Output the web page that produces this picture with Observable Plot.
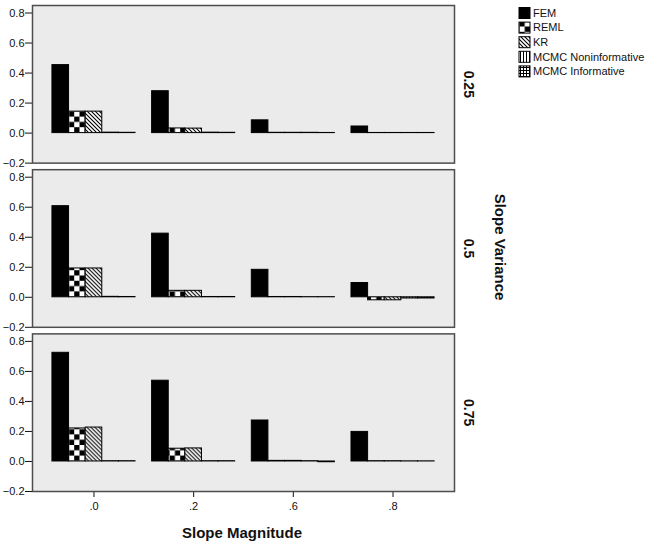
<!DOCTYPE html>
<html><head><meta charset="utf-8">
<script src="https://cdn.jsdelivr.net/npm/d3@7"></script>
<script src="https://cdn.jsdelivr.net/npm/@observablehq/plot@0.6"></script>
<style>
body{margin:0;background:#fff;}
#chart{position:relative;width:653px;height:544px;}
</style>
</head><body><div id="chart"></div>
<script>
// ---- data ----
const magnitudes = [".0", ".2", ".6", ".8"];
const variances = ["0.25", "0.5", "0.75"];
const methods = ["FEM", "REML", "KR", "MCMC Noninformative", "MCMC Informative"];
const yTicks = [-0.2, 0, 0.2, 0.4, 0.6, 0.8];
// rows: slope variance (0.25, 0.5, 0.75); columns: slope magnitude (.0, .2, .6, .8)
const femValues   = [[0.453, 0.279, 0.085, 0.044], [0.607, 0.424, 0.183, 0.095], [0.724, 0.538, 0.273, 0.197]];
const remlValues  = [[0.143, 0.031, 0.002, 0.001], [0.192, 0.043, 0.002, -0.020], [0.220, 0.085, 0.004, 0.002]];
const krValues    = [[0.143, 0.030, 0.002, 0.001], [0.192, 0.043, 0.002, -0.020], [0.226, 0.087, 0.004, 0.002]];
const mcmcNValues = [[0.003, 0.003, 0.002, 0.001], [0.003, 0.002, 0.001, -0.008], [0.002, 0.002, 0.002, 0.001]];
const mcmcIValues = [[0.002, 0.002, 0.001, 0.001], [0.002, 0.002, 0.001, -0.008], [0.002, 0.002, -0.005, 0.001]];

const seriesValues = [femValues, remlValues, krValues, mcmcNValues, mcmcIValues];
const methodFills = ["#000", "url(#pat-reml)", "url(#pat-kr)", "url(#pat-mcmcn)", "url(#pat-mcmci)"];

const keyOf = (m, k) => m + "|" + k;
const rows = [];
variances.forEach((v, vi) => magnitudes.forEach((m, mi) => methods.forEach((k, ki) => {
  rows.push({variance: v, magnitude: m, method: k, key: keyOf(m, k), value: seriesValues[ki][vi][mi]});
})));
// band domain: method bars per magnitude, with one spacer slot between groups
const xDomain = magnitudes.flatMap((m, i) => [...(i ? ["gap" + i] : []), ...methods.map(k => keyOf(m, k))]);
const xTicks = magnitudes.map(m => keyOf(m, "KR"));

const font = "Arial, 'Liberation Sans', sans-serif";

const plot = Plot.plot({
  width: 653,
  height: 544,
  marginLeft: 32,
  marginRight: 199,
  marginTop: 5,
  marginBottom: 53,
  style: {fontFamily: font, fontSize: "11px", background: "#fff", color: "#111"},
  x: {type: "band", domain: xDomain, paddingInner: 0, paddingOuter: 1.2, round: false, ticks: xTicks,
      tickFormat: k => k.split("|")[0], tickSize: 6, tickPadding: 5, label: null},
  y: {domain: [-0.2, 0.85], ticks: yTicks, tickFormat: d3.format(".1f"), tickSize: 7, tickPadding: 1, label: null},
  fy: {domain: variances, padding: 0.04, round: false, axis: null, label: null},
  color: {domain: methods, range: methodFills},
  marks: [
    Plot.frame({fill: "#ebebeb", stroke: "#4d4d4d", strokeWidth: 1.5}),
    Plot.barY(rows, {x: "key", y: "value", fy: "variance", fill: "method", stroke: "#000", strokeWidth: 1}),
    Plot.text(variances, {fy: d => d, text: d => d, frameAnchor: "right", dx: 14, rotate: 90,
      textAnchor: "middle", fontWeight: "bold", fontSize: 14, fill: "#111"})
  ]
});

const svg = d3.select(plot);
const defs = svg.insert("defs", ":first-child");
// checkerboard
const pr = defs.append("pattern").attr("id", "pat-reml").attr("patternUnits", "userSpaceOnUse").attr("width", 10.6).attr("height", 10.6);
pr.append("rect").attr("width", 10.6).attr("height", 10.6).attr("fill", "#fff");
pr.append("rect").attr("width", 5.3).attr("height", 5.3).attr("fill", "#000");
pr.append("rect").attr("x", 5.3).attr("y", 5.3).attr("width", 5.3).attr("height", 5.3).attr("fill", "#000");
// diagonal stripes
const pk = defs.append("pattern").attr("id", "pat-kr").attr("patternUnits", "userSpaceOnUse").attr("width", 4).attr("height", 4);
pk.append("rect").attr("width", 4).attr("height", 4).attr("fill", "#fff");
pk.append("path").attr("d", "M-1,-1L5,5M-1,3L1,5M3,-1L5,1").attr("stroke", "#000").attr("stroke-width", 1.1);
// vertical lines
const pn = defs.append("pattern").attr("id", "pat-mcmcn").attr("patternUnits", "userSpaceOnUse").attr("width", 3).attr("height", 3);
pn.append("rect").attr("width", 3).attr("height", 3).attr("fill", "#fff");
pn.append("path").attr("d", "M1.5,0V3").attr("stroke", "#000").attr("stroke-width", 1);
// grid
const pi = defs.append("pattern").attr("id", "pat-mcmci").attr("patternUnits", "userSpaceOnUse").attr("width", 3).attr("height", 3);
pi.append("rect").attr("width", 3).attr("height", 3).attr("fill", "#fff");
pi.append("path").attr("d", "M1.5,0V3M0,1.5H3").attr("stroke", "#000").attr("stroke-width", 1);

// axis titles
svg.append("text").attr("x", 242).attr("y", 538).attr("text-anchor", "middle")
  .attr("font-family", font).attr("font-weight", "bold").attr("font-size", 15).attr("fill", "#111")
  .text("Slope Magnitude");
svg.append("text").attr("transform", "translate(500,247) rotate(90)").attr("text-anchor", "middle")
  .attr("dy", "0.35em").attr("font-family", font).attr("font-weight", "bold").attr("font-size", 15).attr("fill", "#111")
  .text("Slope Variance");

// legend
const colorScale = plot.scale("color");
const lg = svg.append("g").attr("font-family", font).attr("font-size", 11).attr("text-anchor", "start");
methods.forEach((k, i) => {
  const cy = 13 + i * 14.6;
  lg.append("rect").attr("x", 519).attr("y", cy - 5.5).attr("width", 11).attr("height", 11)
    .attr("fill", colorScale.apply(k)).attr("stroke", "#000").attr("stroke-width", 1);
  lg.append("text").attr("x", 533).attr("y", cy).attr("dy", "0.35em").attr("text-anchor", "start").attr("fill", "#111").text(k);
});

document.getElementById("chart").appendChild(plot);
</script>
</body></html>
